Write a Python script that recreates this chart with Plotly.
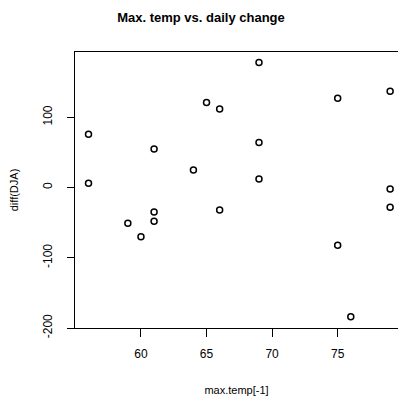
import plotly.graph_objects as go

max_temp = [56, 56, 59, 60, 61, 61, 61, 64, 65, 66, 66, 69, 69, 69, 75, 75, 76, 79, 79, 79]
diff_dja = [76, 6, -51, -70, 55, -35, -48, 25, 121, 112, -32, 178, 64, 12, 127, -82, -184, 137, -2, -28]

x_ticks = [60, 65, 70, 75]
y_ticks = [-200, -100, 0, 100]

font_family = "Liberation Sans, Arial, sans-serif"

fig = go.Figure()
fig.add_trace(go.Scatter(
    x=max_temp, y=diff_dja, mode="markers",
    marker=dict(symbol="circle-open", size=6, color="black", line=dict(width=1.5, color="black")),
    showlegend=False, hoverinfo="skip"))

fig.update_layout(
    width=398, height=400,
    margin=dict(l=75, r=0, t=52, b=72),
    paper_bgcolor="white", plot_bgcolor="white",
    font=dict(family=font_family, color="black", size=12),
    title=dict(text="<b>Max. temp vs. daily change</b>", x=0.505, xanchor="center",
               y=1 - 17 / 400, yanchor="middle", font=dict(size=13, family=font_family)),
)
fig.update_xaxes(
    range=[54.97, 79.6], tickvals=x_ticks, ticktext=[str(v) for v in x_ticks],
    showgrid=False, zeroline=False, showline=True, linecolor="black", linewidth=1.3,
    mirror=True, ticks="outside", ticklen=8, tickwidth=1.2, tickcolor="black",
    tickfont=dict(size=12), ticklabelstandoff=6,
    title=dict(text="max.temp[-1]", font=dict(size=11), standoff=26),
)
fig.update_yaxes(
    range=[-200, 193], tickvals=y_ticks, ticktext=[str(v) for v in y_ticks],
    showgrid=False, zeroline=False, showline=True, linecolor="black", linewidth=1.3,
    mirror=False, ticks="outside", ticklen=7, tickwidth=1.2, tickcolor="black",
    tickangle=-90, tickfont=dict(size=12), ticklabelstandoff=10,
    title=dict(text="diff(DJA)", font=dict(size=11), standoff=20),
)

fig.write_html("out.html")
